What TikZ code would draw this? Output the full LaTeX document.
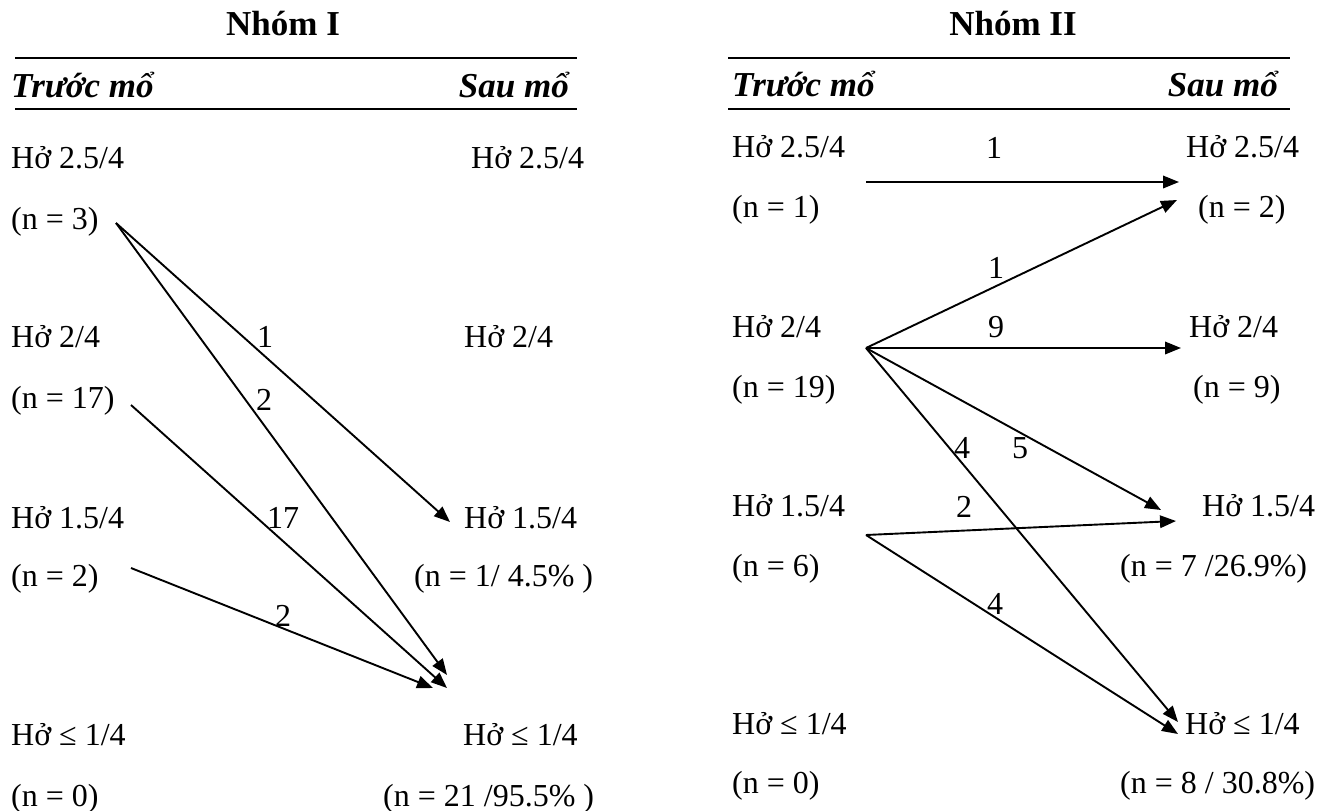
\documentclass[tikz,border=0pt]{standalone}
\usepackage{fontspec}
\setmainfont{Liberation Serif}
\usetikzlibrary{arrows.meta}
\tikzset{>={Triangle[length=16pt,width=12.5pt]}}
\tikzset{
  txt/.style={inner sep=0pt,font=\fontsize{32}{38}\selectfont},
  ttl/.style={inner sep=0pt,anchor=base,font=\fontsize{35}{42}\selectfont\bfseries},
  hd/.style={inner sep=0pt,font=\fontsize{35}{42}\selectfont\bfseries\itshape},
  num/.style={inner sep=0pt,font=\fontsize{32}{38}\selectfont},
  flow/.style={->,line width=1.9pt},
  rule/.style={line width=2.6pt}
}
% the two rules under a group title
\newcommand{\rules}[2]{%
  \draw[rule] (#1,58) -- (#2,58);
  \draw[rule] (#1,109) -- (#2,109);
}

\begin{document}
\begin{tikzpicture}[x=1pt,y=-1pt]
\useasboundingbox (0,0) rectangle (1333,811);
% Nhom I
\node[ttl] (ttlA) at (283,35) {Nhóm I};
\rules{15}{577}
\node[hd,anchor=base west] (preA) at (11,97) {Trước mổ};
\node[hd,anchor=base east] (postA) at (569,97) {Sau mổ};
\node[txt,anchor=base west] (a25) at (11,168) {Hở 2.5/4};
\node[txt,anchor=base west] (an25) at (11,229) {(n = 3)};
\node[txt,anchor=base west] (a2) at (11,347) {Hở 2/4};
\node[txt,anchor=base west] (an2) at (11,408) {(n = 17)};
\node[txt,anchor=base west] (a15) at (11,528) {Hở 1.5/4};
\node[txt,anchor=base west] (an15) at (11,586) {(n = 2)};
\node[txt,anchor=base west] (a1) at (11,745) {Hở ≤ 1/4};
\node[txt,anchor=base west] (an1) at (11,806) {(n = 0)};
\node[txt,anchor=base west] (b25) at (471,168) {Hở 2.5/4};
\node[txt,anchor=base west] (b2) at (464,347) {Hở 2/4};
\node[txt,anchor=base west] (b15) at (464,528) {Hở 1.5/4};
\node[txt,anchor=base west] (bn15) at (414,586) {(n = 1/ 4.5\% )};
\node[txt,anchor=base west] (b1) at (463,745) {Hở ≤ 1/4};
\node[txt,anchor=base west] (bn1) at (383,806) {(n = 21 /95.5\% )};
\coordinate (oA3) at (116,223);
\coordinate (oA17) at (131,405);
\coordinate (oA2) at (131,568);
\coordinate (iA15) at (450,522);
\coordinate (iA1a) at (447,675);
\coordinate (iA1b) at (447,688);
\coordinate (iA1c) at (433,688);
\draw[flow] (oA3) -- (iA15);
\draw[flow] (oA3) -- (iA1a);
\draw[flow] (oA17) -- (iA1b);
\draw[flow] (oA2) -- (iA1c);
\node[num] (kA1) at (265,337) {1};
\node[num] (kA2) at (264,400) {2};
\node[num] (kA17) at (283,518) {17};
\node[num] (kA3) at (283,616) {2};
% Nhom II
\node[ttl] (ttlB) at (1013,35) {Nhóm II};
\rules{728}{1290}
\node[hd,anchor=base west] (preB) at (732,96) {Trước mổ};
\node[hd,anchor=base east] (postB) at (1278,96) {Sau mổ};
\node[txt,anchor=base west] (c25) at (732,157) {Hở 2.5/4};
\node[txt,anchor=base west] (cn25) at (732,217) {(n = 1)};
\node[txt,anchor=base west] (c2) at (732,337) {Hở 2/4};
\node[txt,anchor=base west] (cn2) at (732,397) {(n = 19)};
\node[txt,anchor=base west] (c15) at (732,516) {Hở 1.5/4};
\node[txt,anchor=base west] (cn15) at (732,576) {(n = 6)};
\node[txt,anchor=base west] (c1) at (732,734) {Hở ≤ 1/4};
\node[txt,anchor=base west] (cn1) at (732,793) {(n = 0)};
\node[txt,anchor=base west] (d25) at (1186,157) {Hở 2.5/4};
\node[txt,anchor=base west] (dn25) at (1198,217) {(n = 2)};
\node[txt,anchor=base west] (d2) at (1189,337) {Hở 2/4};
\node[txt,anchor=base west] (dn2) at (1193,397) {(n = 9)};
\node[txt,anchor=base west] (d15) at (1202,516) {Hở 1.5/4};
\node[txt,anchor=base west] (dn15) at (1120,576) {(n = 7 /26.9\%)};
\node[txt,anchor=base west] (d1) at (1185,734) {Hở ≤ 1/4};
\node[txt,anchor=base west] (dn1) at (1120,793) {(n = 8 / 30.8\%)};
\coordinate (oB25) at (866,182);
\coordinate (oB2) at (866,348);
\coordinate (oB15) at (866,535);
\coordinate (iB25) at (1179,182);
\coordinate (iB25b) at (1177,200);
\coordinate (iB2) at (1181,348);
\coordinate (iB15) at (1161,510);
\coordinate (iB15b) at (1176,521);
\coordinate (iB1) at (1178,722);
\coordinate (iB1b) at (1178,734);
\draw[flow] (oB25) -- (iB25);
\draw[flow] (oB2) -- (iB25b);
\draw[flow] (oB2) -- (iB2);
\draw[flow] (oB2) -- (iB15);
\draw[flow] (oB2) -- (iB1);
\draw[flow] (oB15) -- (iB15b);
\draw[flow] (oB15) -- (iB1b);
\node[num] (kB1) at (994,148) {1};
\node[num] (kB2) at (996,268) {1};
\node[num] (kB3) at (996,327) {9};
\node[num] (kB4) at (962,448) {4};
\node[num] (kB5) at (1020,448) {5};
\node[num] (kB6) at (964,507) {2};
\node[num] (kB7) at (995,604) {4};
\end{tikzpicture}
\end{document}
